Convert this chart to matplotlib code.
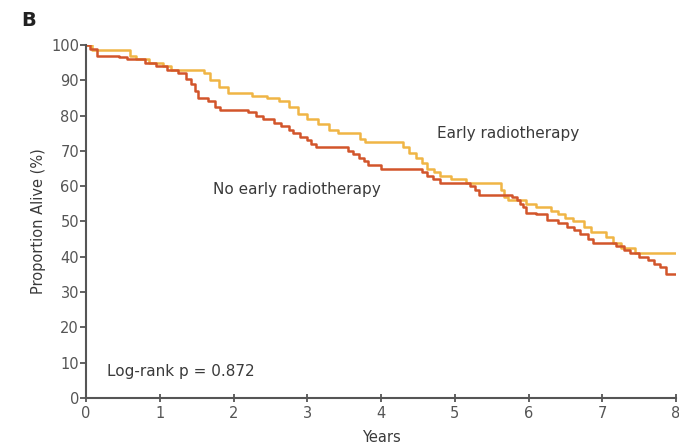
import matplotlib
matplotlib.use('Agg')
import matplotlib.pyplot as plt

# Kaplan-Meier step data (years, % alive)
early_t = [0, 0.08, 0.6, 0.68, 0.85, 1.05, 1.15, 1.6, 1.68, 1.8, 1.92, 2.25, 2.45,
           2.62, 2.75, 2.88, 3.0, 3.15, 3.3, 3.42, 3.72, 3.78, 4.3, 4.38, 4.48, 4.55,
           4.63, 4.72, 4.8, 4.95, 5.15, 5.63, 5.67, 5.72, 5.97, 6.1, 6.3, 6.4, 6.5,
           6.6, 6.75, 6.85, 7.05, 7.15, 7.25, 7.45, 8.0]
early_v = [100, 98.5, 97, 96, 95, 94, 93, 92, 90, 88, 86.5, 85.5, 85,
           84, 82.5, 80.5, 79, 77.5, 76, 75, 73.5, 72.5, 71, 69.5, 68, 66.5,
           65, 64, 63, 62, 61, 59, 57, 56, 55, 54, 53, 52, 51,
           50, 48.5, 47, 45.5, 44, 42.5, 41, 41]

none_t = [0, 0.05, 0.15, 0.45, 0.55, 0.8, 0.95, 1.1, 1.25, 1.35, 1.42, 1.48, 1.52,
          1.65, 1.75, 1.82, 2.2, 2.3, 2.4, 2.55, 2.65, 2.75, 2.8, 2.9, 3.0, 3.05,
          3.12, 3.55, 3.62, 3.7, 3.77, 3.82, 4.0, 4.55, 4.62, 4.7, 4.8, 5.2, 5.28,
          5.33, 5.78, 5.84, 5.88, 5.93, 5.97, 6.1, 6.25, 6.4, 6.52, 6.62, 6.7, 6.8,
          6.87, 7.18, 7.3, 7.38, 7.5, 7.62, 7.7, 7.78, 7.86, 8.0]
none_v = [100, 99, 97, 96.5, 96, 95, 94, 93, 92, 90.5, 89, 87, 85,
          84, 82.5, 81.5, 81, 80, 79, 78, 77, 76, 75, 74, 73, 72,
          71, 70, 69, 68, 67, 66, 65, 64, 63, 62, 61, 60, 59,
          57.5, 57, 56, 55, 54, 52.5, 52, 50.5, 49.5, 48.5, 47.5, 46.5, 45,
          44, 43, 42, 41, 40, 39, 38, 37, 35, 35]

x_ticks = [0, 1, 2, 3, 4, 5, 6, 7, 8]
y_ticks = [0, 10, 20, 30, 40, 50, 60, 70, 80, 90, 100]

colors = {'early': '#f0b545', 'none': '#d2552b', 'axis': '#555555', 'text': '#3a3a3a'}
plt.rcParams['font.family'] = ['Liberation Sans Narrow', 'DejaVu Sans']

fig = plt.figure(figsize=(6.79, 4.45), dpi=100)
ax = fig.add_axes([0.1267, 0.1056, 0.8689, 0.7933])

ax.step(early_t, early_v, where='post', color=colors['early'], linewidth=1.8)
ax.step(none_t, none_v, where='post', color=colors['none'], linewidth=1.8)

ax.set_xlim(0, 8)
ax.set_ylim(0, 100)
ax.set_xticks(x_ticks)
ax.set_yticks(y_ticks)
for side in ['top', 'right']:
    ax.spines[side].set_visible(False)
for side in ['left', 'bottom']:
    ax.spines[side].set_color(colors['axis'])
    ax.spines[side].set_linewidth(1.5)
ax.tick_params(axis='y', direction='out', length=4, width=1.3, color=colors['axis'],
               labelsize=10.5, labelcolor=colors['axis'], pad=1)
ax.tick_params(axis='x', direction='inout', length=6, width=1.3, color=colors['axis'],
               labelsize=10.5, labelcolor=colors['axis'], pad=3)

ax.set_ylabel('Proportion Alive (%)', fontsize=10.5, color=colors['text'], labelpad=4)
ax.set_xlabel('Years', fontsize=10.5, color=colors['text'], labelpad=6)

ax.text(4.76, 75, 'Early radiotherapy', fontsize=11, color=colors['text'], va='center')
ax.text(1.72, 59, 'No early radiotherapy', fontsize=11, color=colors['text'], va='center')
ax.text(0.28, 7.6, 'Log-rank p = 0.872', fontsize=11, color=colors['text'], va='center')

fig.text(0.032, 0.955, 'B', fontsize=14, fontweight='bold', color='#222222',
         family='DejaVu Sans', va='center')

fig.savefig('out.png', dpi=100)
